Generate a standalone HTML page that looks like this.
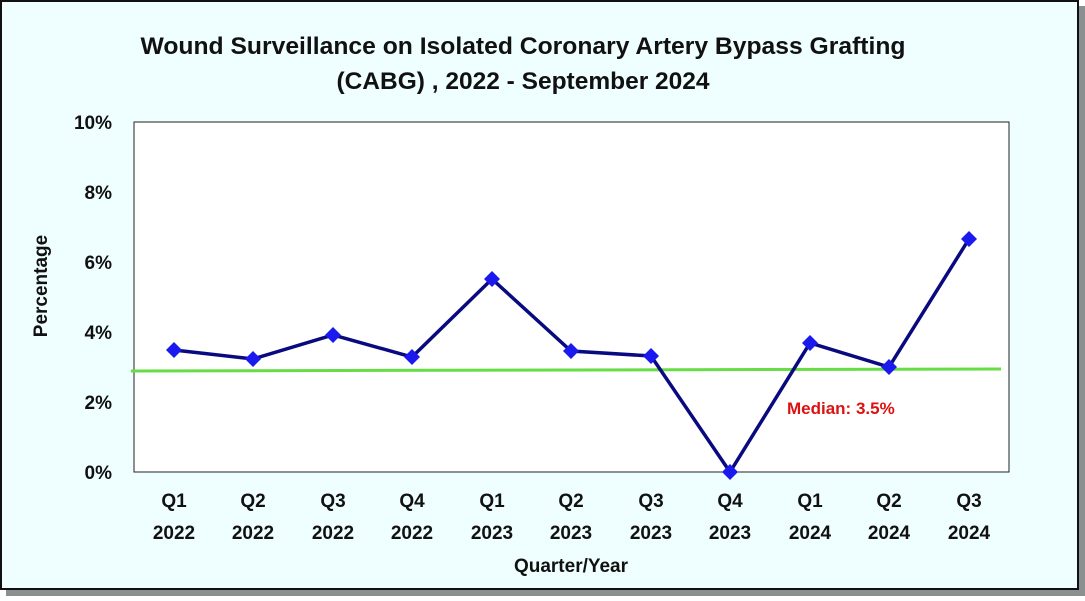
<!DOCTYPE html>
<html><head><style>
body{margin:0;width:1085px;height:596px;overflow:hidden;background:#fff}
</style></head><body>
<svg width="1085" height="596" xmlns="http://www.w3.org/2000/svg" font-family="Liberation Sans, sans-serif" font-weight="bold">
<rect x="0" y="0" width="1085" height="596" fill="#fff"/>
<rect x="6" y="6" width="1079" height="590" fill="#8a9090"/>
<rect x="1" y="1" width="1077" height="588" fill="#effefe" stroke="#111" stroke-width="2"/>
<text x="523" y="54" font-size="24.5" text-anchor="middle" fill="#111" textLength="765" lengthAdjust="spacingAndGlyphs">Wound Surveillance on Isolated Coronary Artery Bypass Grafting</text>
<text x="523" y="89" font-size="24.5" text-anchor="middle" fill="#111">(CABG) , 2022 - September 2024</text>
<rect x="134" y="122" width="875" height="350" fill="#fff" stroke="#222" stroke-width="1"/>
<g font-size="19" text-anchor="end" fill="#111">
<text x="112" y="129">10%</text><text x="112" y="199">8%</text><text x="112" y="269">6%</text>
<text x="112" y="339">4%</text><text x="112" y="409">2%</text><text x="112" y="479">0%</text>
</g>
<text transform="translate(47,286) rotate(-90)" font-size="19" text-anchor="middle" fill="#111">Percentage</text>
<g font-size="19" text-anchor="middle" fill="#111">
<text x="174" y="507">Q1</text><text x="174" y="539">2022</text>
<text x="253" y="507">Q2</text><text x="253" y="539">2022</text>
<text x="333" y="507">Q3</text><text x="333" y="539">2022</text>
<text x="412" y="507">Q4</text><text x="412" y="539">2022</text>
<text x="492" y="507">Q1</text><text x="492" y="539">2023</text>
<text x="571" y="507">Q2</text><text x="571" y="539">2023</text>
<text x="651" y="507">Q3</text><text x="651" y="539">2023</text>
<text x="730" y="507">Q4</text><text x="730" y="539">2023</text>
<text x="810" y="507">Q1</text><text x="810" y="539">2024</text>
<text x="889" y="507">Q2</text><text x="889" y="539">2024</text>
<text x="969" y="507">Q3</text><text x="969" y="539">2024</text>
</g>
<text x="571" y="572" font-size="19" text-anchor="middle" fill="#111">Quarter/Year</text>
<line x1="131" y1="371" x2="1001" y2="369" stroke="#66dd44" stroke-width="3"/>
<polyline points="174,350 253,359 333,335 412,357 492,279 571,351 651,356 730,472 810,343 889,367 969,239" fill="none" stroke="#0a0a80" stroke-width="3.5"/>
<g fill="#1a1aee">
<path d="M174,342l8,8l-8,8l-8,-8z"/><path d="M253,351l8,8l-8,8l-8,-8z"/><path d="M333,327l8,8l-8,8l-8,-8z"/>
<path d="M412,349l8,8l-8,8l-8,-8z"/><path d="M492,271l8,8l-8,8l-8,-8z"/><path d="M571,343l8,8l-8,8l-8,-8z"/>
<path d="M651,348l8,8l-8,8l-8,-8z"/><path d="M730,464l8,8l-8,8l-8,-8z"/><path d="M810,335l8,8l-8,8l-8,-8z"/>
<path d="M889,359l8,8l-8,8l-8,-8z"/><path d="M969,231l8,8l-8,8l-8,-8z"/>
</g>
<text x="787" y="414" font-size="17" fill="#dd1111">Median: 3.5%</text>
</svg>
</body></html>
